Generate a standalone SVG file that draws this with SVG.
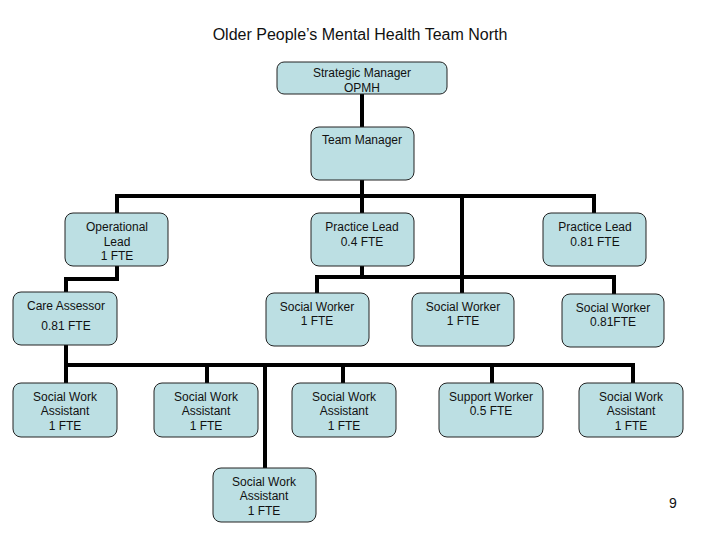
<svg xmlns="http://www.w3.org/2000/svg" width="720" height="540" viewBox="0 0 720 540">
<style>
.b{fill:#bcdfe3;stroke:#222;stroke-width:1}
text{font-family:"Liberation Sans",Arial,sans-serif;font-size:12px;fill:#111;text-anchor:middle}
.t{font-size:16px}
.p{font-size:14px}
.c{fill:none;stroke:#000;stroke-width:4;stroke-linecap:square;stroke-linejoin:miter}
</style>
<rect width="720" height="540" fill="#fff"/>
<text class="t" x="360" y="40">Older People’s Mental Health Team North</text>
<g id="connectors">
<path class="c" d="M362 94V213"/>
<path class="c" d="M117 213V196H594V213"/>
<path class="c" d="M462 196V293"/>
<path class="c" d="M117 266V279H66V292"/>
<path class="c" d="M362 266V277"/>
<path class="c" d="M317 293V277H614V294"/>
<path class="c" d="M66 345V383"/>
<path class="c" d="M66 365H633V383"/>
<path class="c" d="M207 365V383"/>
<path class="c" d="M343 365V383"/>
<path class="c" d="M492 365V383"/>
<path class="c" d="M265 365V468"/>
</g>
<g id="strategic"><rect class="b" x="277" y="62" width="170" height="32" rx="7"/><text x="362" y="77">Strategic Manager</text><text x="362" y="92">OPMH</text></g>
<g id="teammanager"><rect class="b" x="311" y="127" width="103" height="53" rx="8"/><text x="362" y="144">Team Manager</text></g>
<g id="oplead"><rect class="b" x="65" y="213" width="103" height="53" rx="8"/><text x="117" y="231">Operational</text><text x="117" y="246">Lead</text><text x="117" y="260">1 FTE</text></g>
<g id="pl04"><rect class="b" x="311" y="213" width="103" height="53" rx="8"/><text x="362" y="231">Practice Lead</text><text x="362" y="246">0.4 FTE</text></g>
<g id="pl081"><rect class="b" x="543" y="213" width="103" height="53" rx="8"/><text x="595" y="231">Practice Lead</text><text x="595" y="246">0.81 FTE</text></g>
<g id="careassessor"><rect class="b" x="13" y="292" width="104" height="53" rx="8"/><text x="66" y="310">Care Assessor</text><text x="66" y="330">0.81 FTE</text></g>
<g id="sw1"><rect class="b" x="266" y="293" width="103" height="53" rx="8"/><text x="317" y="311">Social Worker</text><text x="317" y="325">1 FTE</text></g>
<g id="sw2"><rect class="b" x="412" y="293" width="102" height="53" rx="8"/><text x="463" y="311">Social Worker</text><text x="463" y="325">1 FTE</text></g>
<g id="sw3"><rect class="b" x="562" y="294" width="102" height="53" rx="8"/><text x="613" y="312">Social Worker</text><text x="613" y="326">0.81FTE</text></g>
<g id="swa1"><rect class="b" x="13" y="383" width="104" height="54" rx="8"/><text x="65" y="401">Social Work</text><text x="65" y="415">Assistant</text><text x="65" y="430">1 FTE</text></g>
<g id="swa2"><rect class="b" x="154" y="383" width="104" height="54" rx="8"/><text x="206" y="401">Social Work</text><text x="206" y="415">Assistant</text><text x="206" y="430">1 FTE</text></g>
<g id="swa3"><rect class="b" x="292" y="383" width="104" height="54" rx="8"/><text x="344" y="401">Social Work</text><text x="344" y="415">Assistant</text><text x="344" y="430">1 FTE</text></g>
<g id="support"><rect class="b" x="439" y="383" width="104" height="54" rx="8"/><text x="491" y="401">Support Worker</text><text x="491" y="415">0.5 FTE</text></g>
<g id="swa5"><rect class="b" x="579" y="383" width="104" height="54" rx="8"/><text x="631" y="401">Social Work</text><text x="631" y="415">Assistant</text><text x="631" y="430">1 FTE</text></g>
<g id="swa4"><rect class="b" x="213" y="468" width="103" height="54" rx="8"/><text x="264" y="486">Social Work</text><text x="264" y="500">Assistant</text><text x="264" y="515">1 FTE</text></g>
<text class="p" x="673" y="508">9</text>
</svg>
